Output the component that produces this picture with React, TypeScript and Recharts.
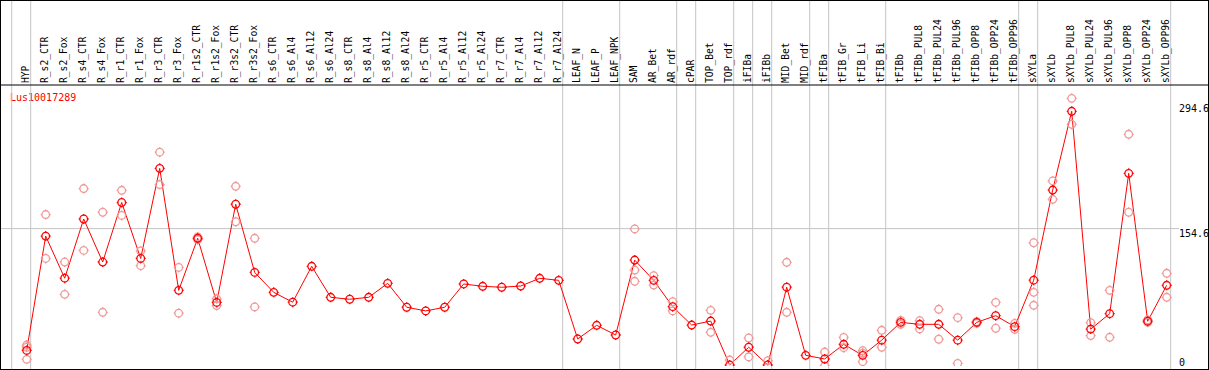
import { ComposedChart, Line, Scatter, XAxis, YAxis, ReferenceLine } from "recharts";

// sample names, left to right
const names = [
  "HYP", "R_s2_CTR", "R_s2_Fox", "R_s4_CTR", "R_s4_Fox", "R_r1_CTR", "R_r1_Fox", "R_r3_CTR", "R_r3_Fox",
  "R_r1s2_CTR", "R_r1s2_Fox", "R_r3s2_CTR", "R_r3s2_Fox", "R_s6_CTR", "R_s6_Al4", "R_s6_Al12", "R_s6_Al24",
  "R_s8_CTR", "R_s8_Al4", "R_s8_Al12", "R_s8_Al24", "R_r5_CTR", "R_r5_Al4", "R_r5_Al12", "R_r5_Al24",
  "R_r7_CTR", "R_r7_Al4", "R_r7_Al12", "R_r7_Al24", "LEAF_N", "LEAF_P", "LEAF_NPK", "SAM", "AR_Bet", "AR_rdf",
  "cPAR", "TOP_Bet", "TOP_rdf", "iFIBa", "iFIBb", "MID_Bet", "MID_rdf", "tFIBa", "tFIB_Gr", "tFIB_Li", "tFIB_Bi",
  "tFIBb", "tFIBb_PUL8", "tFIBb_PUL24", "tFIBb_PUL96", "tFIBb_OPP8", "tFIBb_OPP24", "tFIBb_OPP96",
  "sXYLa", "sXYLb", "sXYLb_PUL8", "sXYLb_PUL24", "sXYLb_PUL96", "sXYLb_OPP8", "sXYLb_OPP24", "sXYLb_OPP96",
];

// mean expression per sample
const means = [
  17.5, 146.2, 98.8, 165.4, 117, 184, 121, 222.4, 85.1,
  143.7, 71.5, 182, 105.3, 82.9, 71.8, 112.2, 77.3,
  75.1, 77.3, 93, 66.1, 62, 66.1, 92.3, 89.7,
  88.6, 90, 98.7, 96.4, 30.4, 45.8, 34.9, 119.2, 96.4, 66.8,
  46.1, 50.6, 1.1, 21.1, 1.1, 88.7, 12, 7.9, 24.4, 12, 29.1,
  49.1, 46.9, 46.9, 29.1, 49.1, 56.6, 44.3,
  96.6, 198, 286.6, 41.5, 58.9, 216.8, 50.4, 90.8,
];

// replicates (null = no replicate drawn)
const rep1 = [
  23.6, 170.4, 117, 199.7, 173, 197.7, 129.5, 240.6, 110.9,
  145.2, 75.6, 202.2, 143.7, null, null, null, null,
  null, null, null, null, null, null, null, null,
  null, null, null, null, null, null, null, 154.3, 101.6, 72.3,
  null, 62.6, 6.7, 31.5, 5.9, 116.7, null, 15.7, 32.2, 17.2, 40.2,
  51.3, 51, 63.8, 54.4, 49.8, 71.5, 48,
  138.7, 208.2, 301.2, 48.7, 85.1, 260.7, 51.8, 104.3,
];
const rep2 = [
  21.1, 121, 80.6, 130.1, 60.4, 169.4, 112.9, 204.2, 59.4,
  142.2, 68, 162.3, 66.5, null, null, null, null,
  null, null, null, null, null, null, null, null,
  null, null, null, null, null, null, null, 107.9, 91.1, 62,
  null, 37.9, null, 10.2, null, 60.4, null, 0, 20.6, 4.9, 21.1,
  46.9, 41.7, 30.1, 2.9, 48, 42.5, 41.3,
  82.9, 187.6, 272, 34.2, 32.3, 173, 49.1, 77.3,
];
const rep3 = [
  7.5, null, null, null, null, null, null, null, null,
  null, null, null, null, null, null, null, null,
  null, null, null, null, null, null, null, null,
  null, null, null, null, null, null, null, 95.3, null, null,
  null, null, null, null, null, null, null, null, null, 14.5, null,
  null, null, null, null, null, null, null,
  68.3, null, null, null, null, null, null, null,
];

// a grey separator follows each of these samples (-1 = left edge)
const groupEnds = [-1, 0, 28, 31, 34, 35, 37, 38, 39, 41, 42, 45, 52, 53, 60];
const yTicks = [0, 154.6, 294.6];
const gridValues = [154.6];
const gene = "Lus10017289";

const FONT = "'DejaVu Sans Mono', monospace";
const RED = "#ff0000";
const PINK = "#f09898";
const GRID = "#c4c4c4";

const rows = means.map((mean, i) => ({ x: i, mean }));
const reps = [rep1, rep2, rep3].flatMap((r) =>
  r.map((y, i) => ({ x: i, y })).filter((p) => p.y != null)
);

function Marker({ cx, cy, color }: { cx?: number; cy?: number; color: string }) {
  if (cx == null || cy == null) return null;
  const r = 3.8;
  const t = 1.2;
  return (
    <g stroke={color} strokeWidth={1.3} fill="none">
      <circle cx={cx} cy={cy} r={r} />
      <line x1={cx} y1={cy - r - t} x2={cx} y2={cy - r} />
      <line x1={cx} y1={cy + r} x2={cx} y2={cy + r + t} />
      <line x1={cx - r - t} y1={cy} x2={cx - r} y2={cy} />
      <line x1={cx + r} y1={cy} x2={cx + r + t} y2={cy} />
    </g>
  );
}

function SampleTick({ x, payload }: any) {
  return (
    <text
      transform={`translate(${x + 2.5},82) rotate(-90) scale(0.877,1)`}
      fontSize={11}
      fontFamily={FONT}
      fill="#000"
    >
      {names[payload.value]}
    </text>
  );
}

export default function App() {
  return (
    <div
      style={{
        position: "absolute",
        left: 0,
        top: 0,
        width: 1207,
        height: 368,
        border: "1px solid #000",
        background: "#fff",
      }}
    >
      <ComposedChart width={1207} height={368} data={rows} margin={{ top: 0, right: 0, bottom: 3, left: 0 }}>
        <XAxis
          dataKey="x"
          type="number"
          orientation="top"
          height={84}
          domain={[-1.3526, 62.174]}
          ticks={names.map((_, i) => i)}
          interval={0}
          tick={<SampleTick />}
          tickLine={false}
          axisLine={{ stroke: "#000" }}
          allowDataOverflow
        />
        <YAxis hide type="number" domain={[0, 316.2]} allowDataOverflow />
        {groupEnds.map((e) => (
          <ReferenceLine
            key={"g" + e}
            x={e + 4 / 19}
            stroke={GRID}
            shape={(p: any) => <line x1={p.x1} x2={p.x2} y1={0} y2={368} stroke={GRID} strokeWidth={1} />}
          />
        ))}
        {yTicks.map((t) => (
          <ReferenceLine
            key={"y" + t}
            y={t}
            stroke={GRID}
            shape={(p: any) => (
              <g>
                {gridValues.includes(t) && (
                  <line x1={p.x1} x2={p.x2 - 29} y1={p.y1} y2={p.y2} stroke={GRID} strokeWidth={1} />
                )}
                <text
                  x={p.x2 - 29}
                  y={t === 0 ? p.y1 : p.y1 + 8}
                  fontSize={10}
                  fontFamily={FONT}
                  fill="#000"
                >
                  {t}
                </text>
              </g>
            )}
          />
        ))}
        <Scatter
          data={reps}
          dataKey="y"
          isAnimationActive={false}
          shape={(p: any) => <Marker cx={p.cx} cy={p.cy} color={PINK} />}
        />
        <Line
          type="linear"
          dataKey="mean"
          stroke={RED}
          strokeWidth={1}
          isAnimationActive={false}
          dot={(p: any) => <Marker key={p.index} cx={p.cx} cy={p.cy} color={RED} />}
          activeDot={false}
        />
        <text x={9} y={100} fill={RED} fontSize={10} fontFamily={FONT}>
          {gene}
        </text>
      </ComposedChart>
    </div>
  );
}
